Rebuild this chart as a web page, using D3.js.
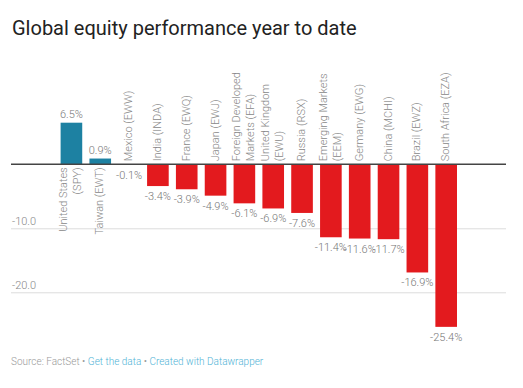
<!DOCTYPE html>
<html>
<head>
<meta charset="utf-8">
<script src="https://cdn.jsdelivr.net/npm/d3@7"></script>
<style>
  body { margin: 0; background: #fff; }
  svg { display: block; font-family: Roboto, "Noto Sans", sans-serif; }
</style>
</head>
<body>
<svg id="chart"></svg>
<script>
// chart values
var labelLines = [
  ["United States", "(SPY)"],
  ["Taiwan (EWT)"],
  ["Mexico (EWW)"],
  ["India (INDA)"],
  ["France (EWQ)"],
  ["Japan (EWJ)"],
  ["Foreign Developed", "Markets (EFA)"],
  ["United Kingdom", "(EWU)"],
  ["Russia (RSX)"],
  ["Emerging Markets", "(EEM)"],
  ["Germany (EWG)"],
  ["China (MCHI)"],
  ["Brazil (EWZ)"],
  ["South Africa (EZA)"]
];
var values = [6.5, 0.9, -0.1, -3.4, -3.9, -4.9, -6.1, -6.9, -7.6, -11.4, -11.6, -11.7, -16.9, -25.4];
var yTicks = [-10, -20];

var W = 523, H = 388;
var posColor = "#1d81a2",
    negColor = "#e31a1e";

var svg = d3.select("#chart").attr("width", W).attr("height", H);

svg.append("rect").attr("width", W).attr("height", H).attr("fill", "#fff");

// title
svg.append("text")
  .attr("x", 12).attr("y", 35)
  .attr("font-size", 20)
  .attr("fill", "#222")
  .text("Global equity performance year to date");

var idx = d3.range(values.length);

var x = d3.scaleBand()
  .domain(idx)
  .range([57, 460.6])
  .paddingInner(0.25)
  .paddingOuter(0.125);

var y = d3.scaleLinear()
  .domain([-20, 0])
  .range([292.3, 164.3]);

var g = svg.append("g");

// gridlines
g.selectAll(".grid")
  .data(yTicks)
  .enter().append("line")
    .attr("class", "grid")
    .attr("x1", 11).attr("x2", 506)
    .attr("y1", function(d) { return y(d) + 0.5; })
    .attr("y2", function(d) { return y(d) + 0.5; })
    .attr("stroke", "#dcdcdc")
    .attr("stroke-width", 1);

g.selectAll(".tick-label")
  .data(yTicks)
  .enter().append("text")
    .attr("class", "tick-label")
    .attr("x", 12)
    .attr("y", function(d) { return y(d) - 3; })
    .attr("font-size", 11)
    .attr("font-weight", 300)
    .attr("fill", "#888")
    .text(function(d) { return d3.format(".1f")(d).replace("−", "-"); });

// bars
g.selectAll(".bar")
  .data(idx)
  .enter().append("rect")
    .attr("class", "bar")
    .attr("x", function(i) { return x(i); })
    .attr("width", x.bandwidth())
    .attr("y", function(i) { return values[i] >= 0 ? y(values[i]) : y(0); })
    .attr("height", function(i) { return Math.abs(y(values[i]) - y(0)); })
    .attr("fill", function(i) { return values[i] >= 0 ? posColor : negColor; });

// zero line
g.append("line")
  .attr("x1", 11).attr("x2", 506)
  .attr("y1", y(0)).attr("y2", y(0))
  .attr("stroke", "#444")
  .attr("stroke-width", 1.5);

// value labels
g.selectAll(".value")
  .data(idx)
  .enter().append("text")
    .attr("class", "value")
    .attr("x", function(i) { return x(i) + x.bandwidth() / 2; })
    .attr("y", function(i) {
      return values[i] >= 0 ? y(values[i]) - 5 : y(values[i]) + 14;
    })
    .attr("text-anchor", "middle")
    .attr("font-size", 11)
    .attr("font-weight", 300)
    .attr("fill", "#777")
    .text(function(i) { return d3.format(".1f")(values[i]).replace("−", "-") + "%"; });

// category labels, rotated
var cat = g.selectAll(".cat")
  .data(idx)
  .enter().append("text")
    .attr("class", "cat")
    .attr("transform", function(i) {
      var cx = x(i) + x.bandwidth() / 2 - 1;
      var cy = values[i] >= 0 ? y(0) + 3 : y(0) - 3;
      return "translate(" + cx + "," + cy + ") rotate(-90)";
    })
    .attr("text-anchor", function(i) { return values[i] >= 0 ? "end" : "start"; })
    .attr("font-size", 11)
    .attr("font-weight", 300)
    .attr("fill", "#888");

cat.selectAll("tspan")
  .data(function(i) {
    var lines = labelLines[i];
    return lines.map(function(l, k) { return {text: l, k: k, n: lines.length}; });
  })
  .enter().append("tspan")
    .attr("x", 0)
    .attr("y", function(d) { return (d.k - (d.n - 1) / 2) * 14 + 4; })
    .text(function(d) { return d.text; });

// footer
var foot = svg.append("text")
  .attr("x", 11).attr("y", 365)
  .attr("font-size", 10)
  .attr("font-weight", 300);
foot.append("tspan").attr("fill", "#999").text("Source: FactSet • ");
foot.append("tspan").attr("fill", "#4fb3d6").text("Get the data");
foot.append("tspan").attr("fill", "#999").text(" • ");
foot.append("tspan").attr("fill", "#4fb3d6").text("Created with Datawrapper");
</script>
</body>
</html>
